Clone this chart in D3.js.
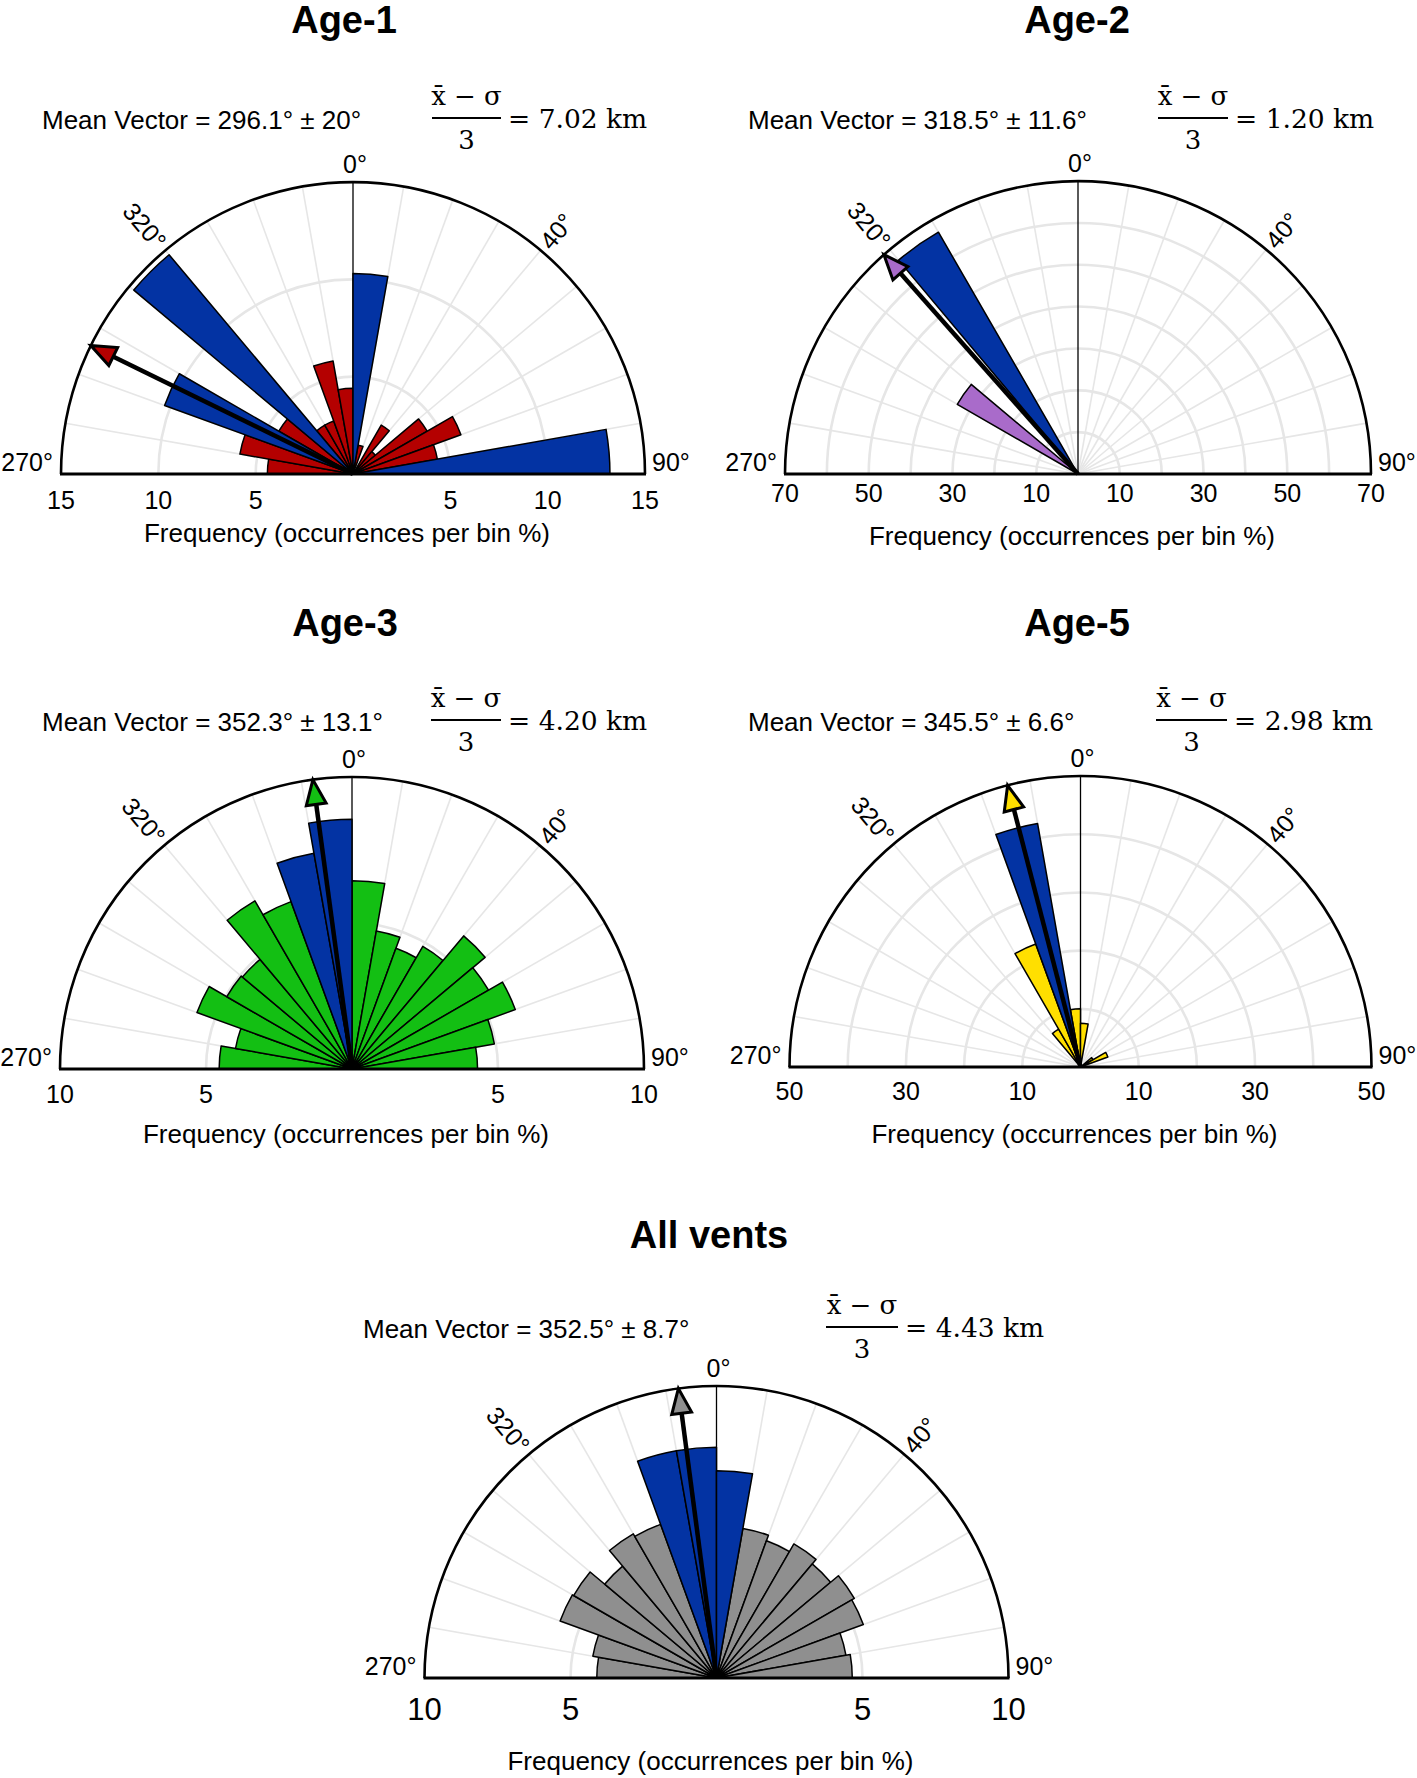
<!DOCTYPE html>
<html>
<head>
<meta charset="utf-8">
<script src="https://cdn.jsdelivr.net/npm/d3@7"></script>
<style>
  body { margin: 0; background: #fff; }
  svg { display: block; }
</style>
</head>
<body>
<svg id="chart" width="1417" height="1778"></svg>
<script>
// ---------- DATA ----------
// 10-degree bins (start azimuth), from 270 (W) through 0 (N) to 80
const binStarts = [270, 280, 290, 300, 310, 320, 330, 340, 350, 0, 10, 20, 30, 40, 50, 60, 70, 80];

const age1Values = [4.4, 5.9, 10.3, 4.4, 14.7, 2.9, 2.9, 5.9, 4.4, 10.3, 1.5, 0, 2.9, 1.5, 4.4, 5.9, 4.4, 13.2];
const age1Highlight = [290, 310, 0, 80];

const age2Values = [0, 0, 0, 33.3, 0, 66.7, 0, 0, 0, 0, 0, 0, 0, 0, 0, 0, 0, 0];
const age2Highlight = [320];

const age3Values = [4.55, 4.05, 5.65, 4.95, 4.9, 6.65, 6.1, 7.5, 8.55, 6.45, 4.8, 4.4, 4.85, 5.95, 5.4, 5.95, 4.95, 4.3];
const age3Highlight = [340, 350];

const age5Values = [0, 0, 0, 0, 0, 7.5, 22.5, 42.5, 10.0, 7.5, 0, 0, 0, 0, 2.5, 5.0, 0, 0];
const age5Highlight = [340];

const allValues = [4.1, 4.3, 5.7, 5.65, 5.0, 5.7, 5.6, 7.9, 7.9, 7.1, 5.2, 5.0, 5.3, 5.1, 5.45, 5.35, 4.5, 4.65];
const allHighlight = [340, 350, 0];

const panelTitles = ["Age-1", "Age-2", "Age-3", "Age-5", "All vents"];
const meanVectors = [296.1, 318.5, 352.3, 345.5, 352.5];
const meanErrors = ["20", "11.6", "13.1", "6.6", "8.7"];
const distances = ["7.02", "1.20", "4.20", "2.98", "4.43"];
const axisMax = [15, 70, 10, 50, 10];
const ringValues = [[5, 10], [10, 20, 30, 40, 50, 60], [5], [10, 20, 30, 40], [5]];
const tickValues = [[5, 10, 15], [10, 30, 50, 70], [5, 10], [10, 30, 50], [5, 10]];
const seriesValues = [age1Values, age2Values, age3Values, age5Values, allValues];
const highlightBins = [age1Highlight, age2Highlight, age3Highlight, age5Highlight, allHighlight];

// ---------- STYLE / LAYOUT ----------
const BLUE = "#0333a3";
const seriesColors = ["#b40000", "#a96bca", "#13bf13", "#ffdf00", "#8f8f8f"];
const GRID = "#e6e6e6";
const SANS = "'Liberation Sans', Arial, Helvetica, sans-serif";
const SERIF = "'DejaVu Serif', 'Liberation Serif', serif";

const layout = [
  { cx: 353,   cy: 474,  R: 292, titleX: 344,  titleY: 33,   meanX: 42,  meanY: 129,  fx1: 432, fx2: 501, tickFs: 25, tickDy: 35, labDy: 68 },
  { cx: 1078,  cy: 474,  R: 293, titleX: 1077, titleY: 33,   meanX: 748, meanY: 129,  fx1: 1158, fx2: 1228, tickFs: 25, tickDy: 28, labDy: 71 },
  { cx: 352,   cy: 1069, R: 292, titleX: 345,  titleY: 636,  meanX: 42,  meanY: 731,  fx1: 431, fx2: 501, tickFs: 25, tickDy: 34, labDy: 74 },
  { cx: 1080.5,cy: 1067, R: 291, titleX: 1077, titleY: 636,  meanX: 748, meanY: 731,  fx1: 1156, fx2: 1227, tickFs: 25, tickDy: 33, labDy: 76 },
  { cx: 716.5, cy: 1678, R: 292, titleX: 709,  titleY: 1248, meanX: 363, meanY: 1338, fx1: 826, fx2: 898, tickFs: 31, tickDy: 42, labDy: 92 }
];

const svg = d3.select("#chart");
const toArcRad = d => (d >= 180 ? d - 360 : d) * Math.PI / 180;
const BIN = 10;

function drawPanel(i) {
  const L = layout[i];
  const max = axisMax[i];
  const color = seriesColors[i];
  const g = svg.append("g");
  const r = d3.scaleLinear().domain([0, max]).range([0, L.R]);
  const pt = (deg, v) => {
    const a = deg * Math.PI / 180;
    return [L.cx + r(v) * Math.sin(a), L.cy - r(v) * Math.cos(a)];
  };

  // grid spokes every 10 deg
  const spokes = d3.range(-80, 90, 10).filter(a => a !== 0);
  g.selectAll("line.spoke").data(spokes).join("line")
    .attr("class", "spoke")
    .attr("x1", L.cx).attr("y1", L.cy)
    .attr("x2", d => pt(d, max)[0]).attr("y2", d => pt(d, max)[1])
    .attr("stroke", GRID).attr("stroke-width", 1.6);

  // grid rings
  g.selectAll("path.ring").data(ringValues[i]).join("path")
    .attr("class", "ring")
    .attr("d", v => `M${L.cx - r(v)},${L.cy}A${r(v)},${r(v)} 0 0 1 ${L.cx + r(v)},${L.cy}`)
    .attr("fill", "none").attr("stroke", GRID).attr("stroke-width", 2.6);

  // north line
  g.append("line")
    .attr("x1", L.cx).attr("y1", L.cy)
    .attr("x2", pt(0, max)[0]).attr("y2", pt(0, max)[1])
    .attr("stroke", "#000").attr("stroke-width", 1.3);

  // bars
  const arc = d3.arc().innerRadius(0);
  const bins = binStarts.map((s, k) => ({ s, v: seriesValues[i][k], hi: highlightBins[i].includes(s) }))
    .filter(d => d.v > 0)
    .sort((a, b) => a.hi - b.hi);
  g.selectAll("path.bar").data(bins).join("path")
    .attr("class", "bar")
    .attr("transform", `translate(${L.cx},${L.cy})`)
    .attr("d", d => arc({ outerRadius: r(d.v), startAngle: toArcRad(d.s), endAngle: toArcRad(d.s) + BIN * Math.PI / 180 }))
    .attr("fill", d => d.hi ? BLUE : color)
    .attr("stroke", "#000").attr("stroke-width", 1.5)
    .attr("stroke-linejoin", "round");

  // frame: outer semicircle + baseline
  g.append("path")
    .attr("d", `M${L.cx - r(max)},${L.cy}A${r(max)},${r(max)} 0 0 1 ${L.cx + r(max)},${L.cy}`)
    .attr("fill", "none").attr("stroke", "#000").attr("stroke-width", 2.6);
  g.append("line")
    .attr("x1", L.cx - r(max) - 1).attr("x2", L.cx + r(max) + 1)
    .attr("y1", L.cy).attr("y2", L.cy)
    .attr("stroke", "#000").attr("stroke-width", 3);

  // mean vector arrow
  const m = meanVectors[i];
  const a = m * Math.PI / 180;
  const ux = Math.sin(a), uy = -Math.cos(a);
  const px = -uy, py = ux;
  const [tx, ty] = pt(m, max);
  const headLen = 25, halfW = 10;
  const bx = tx - ux * headLen, by = ty - uy * headLen;
  g.append("line")
    .attr("x1", L.cx).attr("y1", L.cy).attr("x2", bx + ux * 2).attr("y2", by + uy * 2)
    .attr("stroke", "#000").attr("stroke-width", 4.5);
  g.append("line")
    .attr("x1", tx - px * 6).attr("y1", ty - py * 6)
    .attr("x2", tx + px * 6).attr("y2", ty + py * 6)
    .attr("stroke", "#000").attr("stroke-width", 1.4);
  g.append("path")
    .attr("d", `M${tx},${ty}L${bx + px * halfW},${by + py * halfW}L${bx - px * halfW},${by - py * halfW}Z`)
    .attr("fill", color).attr("stroke", "#000").attr("stroke-width", 3)
    .attr("stroke-linejoin", "miter");

  // direction labels
  const R = r(max);
  g.append("text").attr("x", L.cx + 2).attr("y", L.cy - R - 9)
    .attr("text-anchor", "middle").attr("font-family", SANS).attr("font-size", 25).text("0°");
  g.append("text").attr("x", L.cx - R - 8).attr("y", L.cy - 3)
    .attr("text-anchor", "end").attr("font-family", SANS).attr("font-size", 25).text("270°");
  g.append("text").attr("x", L.cx + R + 7).attr("y", L.cy - 3)
    .attr("text-anchor", "start").attr("font-family", SANS).attr("font-size", 25).text("90°");
  const [x320, y320] = [L.cx + (R + 6) * Math.sin(-40 * Math.PI / 180), L.cy - (R + 6) * Math.cos(-40 * Math.PI / 180)];
  g.append("text")
    .attr("transform", `translate(${x320},${y320}) rotate(50)`)
    .attr("text-anchor", "end").attr("dominant-baseline", "central")
    .attr("font-family", SANS).attr("font-size", 25).text("320°");
  const [x40, y40] = [L.cx + (R + 6) * Math.sin(40 * Math.PI / 180), L.cy - (R + 6) * Math.cos(40 * Math.PI / 180)];
  g.append("text")
    .attr("transform", `translate(${x40},${y40}) rotate(-50)`)
    .attr("text-anchor", "start").attr("dominant-baseline", "central")
    .attr("font-family", SANS).attr("font-size", 25).text("40°");

  // frequency tick labels (both sides)
  const ticks = [];
  tickValues[i].forEach(v => { ticks.push({ v, x: L.cx - r(v) }); ticks.push({ v, x: L.cx + r(v) }); });
  g.selectAll("text.tick").data(ticks).join("text")
    .attr("class", "tick")
    .attr("x", d => d.x).attr("y", L.cy + L.tickDy)
    .attr("text-anchor", "middle").attr("font-family", SANS).attr("font-size", L.tickFs)
    .text(d => d.v);

  g.append("text").attr("x", L.cx - 6).attr("y", L.cy + L.labDy)
    .attr("text-anchor", "middle").attr("font-family", SANS).attr("font-size", 26)
    .text("Frequency (occurrences per bin %)");

  // title
  g.append("text").attr("x", L.titleX).attr("y", L.titleY)
    .attr("text-anchor", "middle").attr("font-family", SANS).attr("font-weight", "bold").attr("font-size", 38)
    .text(panelTitles[i]);

  // mean vector text
  g.append("text").attr("x", L.meanX).attr("y", L.meanY)
    .attr("font-family", SANS).attr("font-size", 26)
    .text(`Mean Vector = ${m}° ± ${meanErrors[i]}°`);

  // fraction (x̄ − σ)/3 = d km
  const fy = L.meanY - 11;
  const fmid = (L.fx1 + L.fx2) / 2;
  g.append("line").attr("x1", L.fx1).attr("x2", L.fx2).attr("y1", fy).attr("y2", fy)
    .attr("stroke", "#000").attr("stroke-width", 2);
  g.append("text").attr("x", fmid).attr("y", fy - 13)
    .attr("text-anchor", "middle").attr("font-family", SERIF).attr("font-size", 26)
    .text("x\u0304 \u2212 σ");
  g.append("text").attr("x", fmid).attr("y", fy + 31)
    .attr("text-anchor", "middle").attr("font-family", SERIF).attr("font-size", 26)
    .text("3");
  g.append("text").attr("x", L.fx2 + 7).attr("y", fy + 10)
    .attr("font-family", SERIF).attr("font-size", 26.5)
    .text(`= ${distances[i]} km`);
}

for (let i = 0; i < 5; i++) drawPanel(i);
</script>
</body>
</html>
